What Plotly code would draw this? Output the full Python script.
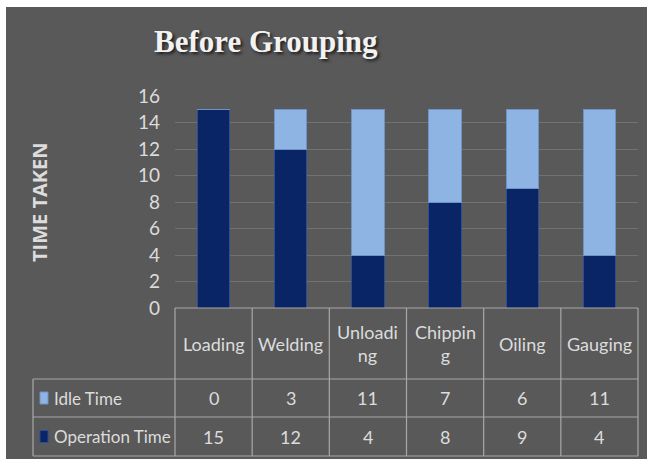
import plotly.graph_objects as go

categories = ["Loading", "Welding", "Unloading", "Chipping", "Oiling", "Gauging"]
header_labels = ["Loading", "Welding", "Unloadi<br>ng", "Chippin<br>g", "Oiling", "Gauging"]
operation_time = [15, 12, 4, 8, 9, 4]
idle_time = [0, 3, 11, 7, 6, 11]
tick_vals = [0, 2, 4, 6, 8, 10, 12, 14, 16]

W, H = 649, 462
ML, MR, MT, MB = 175, 11, 96, 154
PW = W - ML - MR
PH = H - MT - MB

def px(x):
    return (x - ML) / PW

def py(y):
    return (H - MB - y) / PH

BG = "#595959"
NAVY = "#0a2566"
LIGHT = "#8eb4e3"
TXT = "#dcdcdc"
TABLE_LINE = "#a8a8a8"
FONT = "Lato, Open Sans, sans-serif"

fig = go.Figure()
fig.add_trace(go.Bar(
    x=categories, y=operation_time, name="Operation Time",
    marker=dict(color=NAVY, line=dict(color="#2b4e94", width=1)), width=0.42,
))
fig.add_trace(go.Bar(
    x=categories, y=idle_time, name="Idle Time",
    marker=dict(color=LIGHT, line=dict(color="#6f93c4", width=1)), width=0.42,
))

shapes = []
shapes.append(dict(type="rect", xref="paper", yref="paper", layer="below",
                   x0=px(6), x1=px(647), y0=py(459), y1=py(7),
                   fillcolor=BG, line=dict(width=0)))

row_top = py(308)
row_h1 = py(379)
row_h2 = py(417)
row_bot = py(456)
leg_left = px(33)
n = len(categories)
lw = 1.2
shapes.append(dict(type="line", xref="paper", yref="paper", x0=0, x1=1, y0=row_top, y1=row_top,
                   line=dict(color=TABLE_LINE, width=lw)))
for yy in (row_h1, row_h2, row_bot):
    shapes.append(dict(type="line", xref="paper", yref="paper", x0=leg_left, x1=1, y0=yy, y1=yy,
                       line=dict(color=TABLE_LINE, width=lw)))
shapes.append(dict(type="line", xref="paper", yref="paper", x0=leg_left, x1=leg_left, y0=row_h1, y1=row_bot,
                   line=dict(color=TABLE_LINE, width=lw)))
for k in range(n + 1):
    shapes.append(dict(type="line", xref="paper", yref="paper", x0=k / n, x1=k / n, y0=row_top, y1=row_bot,
                       line=dict(color=TABLE_LINE, width=lw)))

annotations = []
annotations.append(dict(text="<b>Before Grouping</b>", xref="paper", yref="paper",
                        x=px(266), y=py(42), xanchor="center", yanchor="middle", showarrow=False,
                        font=dict(family="Liberation Serif, serif", size=31, color="#f2f2f2",
                                  shadow="2px 2px 3px #1e1e1e")))
annotations.append(dict(text="<b>TIME TAKEN</b>", xref="paper", yref="paper", textangle=-90,
                        x=px(39), y=py(202), xanchor="center", yanchor="middle", showarrow=False,
                        font=dict(family="Open Sans, sans-serif", size=20, color=TXT)))

y_head = py((308 + 379) / 2)
y_r1 = py((379 + 417) / 2)
y_r2 = py((417 + 456) / 2)
for cat, lab, it, ot in zip(categories, header_labels, idle_time, operation_time):
    annotations.append(dict(text=lab, xref="x", yref="paper", x=cat, y=y_head, showarrow=False,
                            xanchor="center", yanchor="middle", font=dict(family=FONT, size=18, color=TXT)))
    annotations.append(dict(text=str(it), xref="x", yref="paper", x=cat, y=y_r1, showarrow=False,
                            xanchor="center", yanchor="middle", font=dict(family=FONT, size=18, color=TXT)))
    annotations.append(dict(text=str(ot), xref="x", yref="paper", x=cat, y=y_r2, showarrow=False,
                            xanchor="center", yanchor="middle", font=dict(family=FONT, size=18, color=TXT)))

for yy, name, col, lc in ((y_r1, "Idle Time", LIGHT, "#6f93c4"), (y_r2, "Operation Time", NAVY, "#2b4e94")):
    hh = 12 / PH
    shapes.append(dict(type="rect", xref="paper", yref="paper", x0=px(40), x1=px(48),
                       y0=yy - hh / 2, y1=yy + hh / 2, fillcolor=col, line=dict(color=lc, width=1)))
    annotations.append(dict(text=name, xref="paper", yref="paper", x=px(52), y=yy, showarrow=False,
                            xanchor="left", yanchor="middle", font=dict(family=FONT, size=17, color=TXT)))

fig.update_layout(
    width=W, height=H,
    margin=dict(l=ML, r=MR, t=MT, b=MB, pad=0),
    paper_bgcolor="white", plot_bgcolor=BG,
    barmode="stack", showlegend=False,
    shapes=shapes, annotations=annotations,
    xaxis=dict(showticklabels=False, showgrid=False, zeroline=False, showline=False,
               range=[-0.5, n - 0.5], fixedrange=True),
    yaxis=dict(range=[0, 16], tickvals=tick_vals, showgrid=True, gridcolor="#727272", gridwidth=1,
               zeroline=False, showline=False, ticks="", ticklabelstandoff=14,
               tickfont=dict(family=FONT, size=19, color=TXT), fixedrange=True),
)

fig.write_html("out.html")
